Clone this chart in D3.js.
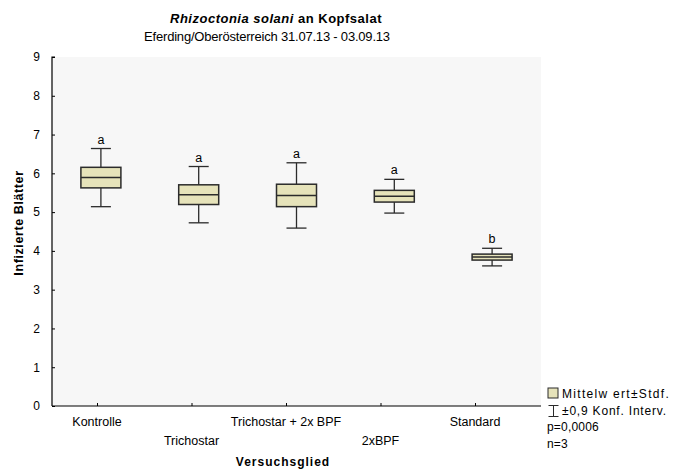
<!DOCTYPE html>
<html>
<head>
<meta charset="utf-8">
<script src="https://cdn.jsdelivr.net/npm/d3@7"></script>
<style>
  html, body { margin: 0; padding: 0; background: #ffffff; }
  text { font-family: "Liberation Sans", Arial, sans-serif; fill: #000; }
</style>
</head>
<body>
<svg id="chart" width="682" height="471"></svg>
<script>
// Treatments (Versuchsglied) and their statistics
const categories = ["Kontrolle", "Trichostar", "Trichostar + 2x BPF", "2xBPF", "Standard"];
const means      = [5.89, 5.45, 5.43, 5.41, 3.84];
const stdErr     = [0.265, 0.254, 0.289, 0.151, 0.077];
const confHalf   = [0.75, 0.726, 0.842, 0.435, 0.227];
const letters    = ["a", "a", "a", "a", "b"];
const yTicks     = [0, 1, 2, 3, 4, 5, 6, 7, 8, 9];
const legendText = ["Mittelw ert\u00B1Stdf.", "\u00B10,9 Konf. Interv.", "p=0,0006", "n=3"];

const svg = d3.select("#chart");
const plot = { left: 52, right: 541, top: 57, bottom: 406 };

const y = d3.scaleLinear().domain([0, 9]).range([plot.bottom, plot.top]);
// box positions
const x = d3.scaleLinear().domain([0.5, 5.5]).range([plot.left, plot.right]);
// category axis ticks/labels
const xAxisScale = d3.scalePoint().domain(categories).range([97, 475]);

const boxColor = "#e6e3ba";
const stroke = "#2b2b2b";

// plot background
svg.append("rect")
  .attr("x", plot.left).attr("y", plot.top)
  .attr("width", plot.right - plot.left).attr("height", plot.bottom - plot.top)
  .attr("fill", "#f7f7f7");

// y axis
const yAxis = svg.append("g")
  .attr("transform", `translate(${plot.left},0)`)
  .call(d3.axisRight(y).tickValues(yTicks).tickSize(3).tickFormat(d3.format("d")));
yAxis.select(".domain").attr("d", `M3,${plot.top}H0V${plot.bottom}`).attr("stroke", "#000").attr("stroke-width", 1.2);
yAxis.selectAll(".tick line").attr("stroke", "#000");
yAxis.selectAll(".tick text")
  .attr("x", -12).attr("text-anchor", "end").attr("fill", "#000")
  .style("font-size", "12px").style("font-family", "Liberation Sans, Arial, sans-serif");

// x axis
const xAxis = svg.append("g")
  .attr("transform", `translate(0,${plot.bottom})`)
  .call(d3.axisTop(xAxisScale).tickSize(3).tickFormat(""));
xAxis.select(".domain").attr("d", `M${plot.left},0H${plot.right}`).attr("stroke", "#000").attr("stroke-width", 1.2);
xAxis.selectAll(".tick line").attr("stroke", "#000");

svg.append("g").selectAll("text")
  .data(categories)
  .join("text")
  .attr("x", d => xAxisScale(d))
  .attr("y", (d, i) => i % 2 === 0 ? 426 : 445)
  .attr("text-anchor", "middle")
  .style("font-size", "12.5px")
  .text(d => d);

// boxes
const bw = 40;
const g = svg.append("g");
categories.forEach((c, i) => {
  const cx = x(i + 1);
  const m = means[i], se = stdErr[i], ci = confHalf[i];
  const grp = g.append("g");
  // whisker
  grp.append("line")
    .attr("x1", cx).attr("x2", cx)
    .attr("y1", y(m + ci)).attr("y2", y(m - ci))
    .attr("stroke", stroke).attr("stroke-width", 1.3);
  [m + ci, m - ci].forEach(v => {
    grp.append("line")
      .attr("x1", cx - 10).attr("x2", cx + 10)
      .attr("y1", y(v)).attr("y2", y(v))
      .attr("stroke", stroke).attr("stroke-width", 1.3);
  });
  // box (mean ± std err)
  grp.append("rect")
    .attr("x", cx - bw / 2).attr("width", bw)
    .attr("y", y(m + se)).attr("height", y(m - se) - y(m + se))
    .attr("fill", boxColor).attr("stroke", stroke).attr("stroke-width", 1.5);
  // mean line
  grp.append("line")
    .attr("x1", cx - bw / 2).attr("x2", cx + bw / 2)
    .attr("y1", y(m)).attr("y2", y(m))
    .attr("stroke", stroke).attr("stroke-width", 1.5);
  // significance letter
  grp.append("text")
    .attr("x", cx).attr("y", y(m + ci) - 5)
    .attr("text-anchor", "middle").attr("fill", "#000")
    .style("font-size", "12.5px")
    .text(letters[i]);
});

// titles
const title = svg.append("text")
  .attr("x", 276).attr("y", 23)
  .attr("text-anchor", "middle")
  .style("font-size", "13px").style("font-weight", "bold")
  .style("letter-spacing", "0.5px");
title.append("tspan").style("font-style", "italic").text("Rhizoctonia solani");
title.append("tspan").text(" an Kopfsalat");

svg.append("text")
  .attr("x", 267).attr("y", 41)
  .attr("text-anchor", "middle")
  .style("font-size", "13px")
  .style("letter-spacing", "-0.2px")
  .text("Eferding/Oberösterreich 31.07.13 - 03.09.13");

// axis titles
svg.append("text")
  .attr("transform", "translate(23,223) rotate(-90)")
  .attr("text-anchor", "middle")
  .style("font-size", "12.5px").style("font-weight", "bold")
  .style("letter-spacing", "0.6px")
  .text("Infizierte Blätter");

svg.append("text")
  .attr("x", 283).attr("y", 466)
  .attr("text-anchor", "middle")
  .style("font-size", "12px").style("font-weight", "bold")
  .style("letter-spacing", "1px")
  .text("Versuchsglied");

// legend
const lg = svg.append("g");
lg.append("rect")
  .attr("x", 548).attr("y", 388).attr("width", 10).attr("height", 10)
  .attr("fill", boxColor).attr("stroke", stroke).attr("stroke-width", 1);
// whisker symbol
lg.append("path")
  .attr("d", "M548.5,405.5H558.5M553.5,405.5V416.5M548.5,416.5H558.5")
  .attr("fill", "none").attr("stroke", stroke).attr("stroke-width", 1);
const legendSpacing = ["1.3px", "0.8px", "0.2px", "0.2px"];
legendText.forEach((t, i) => {
  lg.append("text")
    .attr("x", i < 2 ? 562 : 547)
    .attr("y", 398 + i * 16.5)
    .style("font-size", "12px")
    .style("letter-spacing", legendSpacing[i])
    .text(t);
});
</script>
</body>
</html>
